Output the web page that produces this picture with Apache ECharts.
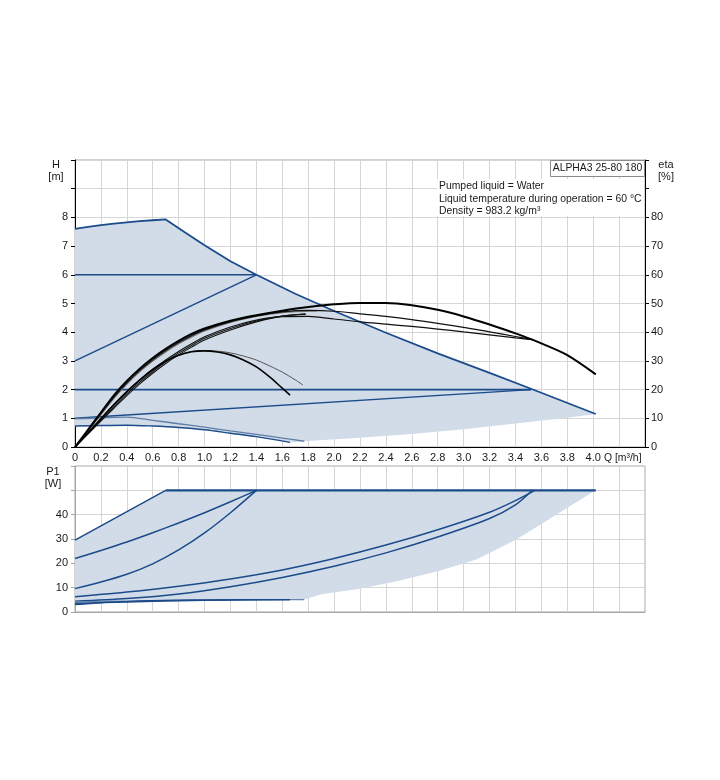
<!DOCTYPE html>
<html><head><meta charset="utf-8">
<script src="https://cdn.jsdelivr.net/npm/echarts@6/dist/echarts.min.js"></script>
<style>html,body{margin:0;padding:0;background:#fff}#c{width:720px;height:780px}</style>
</head><body><div id="c"></div>
<script>
// ---------- DATA (Q in m3/h) ----------
// Head chart, H [m]
const hMaxCurve = [[0,7.6],[0.1,7.67],[0.2,7.73],[0.3,7.78],[0.4,7.83],[0.5,7.87],[0.6,7.9],[0.7,7.93],[0.85,7.47],[1.0,7.03],[1.2,6.47],[1.4,6.0],[1.7,5.34],[2.0,4.74],[2.4,3.98],[2.8,3.26],[3.2,2.58],[3.52,2.03],[4.02,1.15]];
const hShadeLower = [[4.02,1.15],[3.8,1.02],[3.4,0.82],[3.0,0.62],[2.6,0.45],[2.2,0.32],[1.77,0.2]];
const hMinA = [[0,0.98],[0.2,1.02],[0.4,1.04],[0.6,0.93],[0.8,0.81],[1.0,0.69],[1.2,0.56],[1.4,0.44],[1.6,0.31],[1.77,0.2]];
const hMinB = [[0,0.73],[0.2,0.75],[0.4,0.76],[0.6,0.73],[0.8,0.68],[1.0,0.6],[1.2,0.48],[1.4,0.36],[1.66,0.16]];
const hPropHigh = [[0,3],[1.4,6]];
const hPropLow = [[0,1],[3.52,2]];
const hConst6 = [[0,6],[1.4,6]];
const hConst2 = [[0,2],[3.52,2]];
// Efficiency curves, eta [%]
const etaMax = [[0,0],[0.1,6],[0.2,12],[0.3,18],[0.4,23],[0.5,27.3],[0.6,31],[0.7,34.2],[0.8,37],[0.9,39.4],[1.0,41.3],[1.2,44],[1.4,45.9],[1.6,47.5],[1.8,48.8],[2.0,49.7],[2.2,50.2],[2.4,50.2],[2.6,49.4],[2.8,47.8],[3.0,45.5],[3.2,42.7],[3.4,39.6],[3.53,37.4],[3.6,36.1],[3.8,32],[4.02,25.3]];
const etaMid = [[0,0],[0.1,5.8],[0.2,11.6],[0.3,17.4],[0.4,22.4],[0.5,26.7],[0.6,30.4],[0.7,33.6],[0.8,36.4],[0.9,38.8],[1.0,40.8],[1.2,43.7],[1.4,45.7],[1.6,47.1],[1.8,47.6],[2.0,47.3],[2.2,46.4],[2.4,45.5],[2.6,44.4],[2.8,43.1],[3.0,41.7],[3.2,40.1],[3.4,38.5],[3.53,37.4]];
const etaLow = [[0,0],[0.1,4.9],[0.2,9.8],[0.3,14.6],[0.4,19.2],[0.5,23.3],[0.6,27],[0.7,30.3],[0.8,33.3],[0.9,36],[1.0,38.4],[1.2,41.8],[1.4,44.2],[1.6,45.4],[1.8,45.5],[2.0,44.6],[2.2,43.6],[2.4,42.8],[2.6,42],[2.8,41.1],[3.0,40.1],[3.2,39.1],[3.4,38],[3.53,37.4]];
const etaGrayTop = [[0,0],[0.1,5.7],[0.2,11.4],[0.3,17],[0.4,22],[0.5,26.3],[0.6,30],[0.7,33.2],[0.8,36],[0.9,38.4],[1.0,40.5],[1.2,43.5],[1.4,45.6],[1.6,46.9],[1.87,47.5]];
const etaBundleA = [[0,0],[0.1,4.7],[0.2,9.4],[0.3,14],[0.4,18.5],[0.5,22.6],[0.6,26.3],[0.7,29.7],[0.8,32.7],[0.9,35.4],[1.0,37.9],[1.2,41.3],[1.4,43.9],[1.6,45.6],[1.78,46.4]];
const etaBundleB = [[0,0],[0.1,4.5],[0.2,9],[0.3,13.5],[0.4,17.9],[0.5,22],[0.6,25.7],[0.7,29.1],[0.8,32.1],[0.9,34.8],[1.0,37.3],[1.2,40.8],[1.4,43.6],[1.6,45.6],[1.78,46.2]];
const etaPeakThick = [[0,0],[0.1,4.9],[0.2,9.9],[0.3,14.8],[0.4,19.3],[0.5,23.4],[0.6,27],[0.7,29.9],[0.8,32],[0.9,33.2],[1.0,33.5],[1.1,33.1],[1.2,32.1],[1.3,30.3],[1.4,27.9],[1.5,24.5],[1.6,20.5],[1.66,18.1]];
const etaPeakThin = [[0,0],[0.1,4.8],[0.2,9.7],[0.3,14.6],[0.4,19.1],[0.5,23.2],[0.6,26.8],[0.7,29.8],[0.8,32],[0.9,33.3],[1.0,33.6],[1.1,33.4],[1.2,32.8],[1.3,31.7],[1.4,30.3],[1.5,28.3],[1.6,26.1],[1.7,23.4],[1.76,21.6]];
// Power chart, P1 [W]
const pLimitA = [[0,29.5],[0.7,50]];
const pLimitTop = [[0.7,50],[4.02,50]];
const pCurveB = [[0,22],[0.2,25.3],[0.4,28.8],[0.6,32.6],[0.8,36.6],[1.0,40.8],[1.2,45.3],[1.4,50]];
const pCurveC = [[0,9.6],[0.2,12.3],[0.4,15.5],[0.6,19.8],[0.8,25.5],[1.0,32.5],[1.2,40.8],[1.4,50]];
const pCurveD = [[0,6.3],[0.4,8.2],[0.8,10.6],[1.2,13.6],[1.6,17.3],[2.0,22],[2.4,27.5],[2.8,33.8],[3.2,41],[3.4,45.8],[3.55,50]];
const pCurveE = [[0,4.4],[0.4,5.5],[0.8,7.4],[1.2,10.4],[1.6,14.2],[2.0,18.8],[2.4,24.3],[2.8,30.8],[3.2,38.4],[3.4,44],[3.53,50]];
const pLowF1 = [[0,3.0],[0.2,3.8],[0.4,4.3],[0.6,4.7],[0.8,4.9],[1.0,5.0],[1.66,5.1]];
const pLowF2 = [[0,3.5],[0.4,4.1],[0.8,4.6],[1.2,4.9],[1.66,5.1]];
const pLowF3 = [[0,4.1],[0.4,4.5],[0.8,4.8],[1.2,5.0],[1.77,5.1]];
const pShadeLower = [[4.02,50],[3.85,44.5],[3.6,36.2],[3.4,29.6],[3.1,21.6],[2.8,16.7],[2.5,12.8],[2.2,9.6],[1.9,7.3],[1.77,5.1]];
// Texts
const infoLines = ['Pumped liquid = Water','Liquid temperature during operation = 60 °C','Density = 983.2 kg/m³'];
const pumpName = 'ALPHA3 25-80 180';

// ---------- CHART ----------
const FONT = '"Liberation Sans", Arial, sans-serif';
const BLUE = '#1b4b8a', SHADE = '#d1dce8', GRID = '#d6d6d6', FRAME = '#a6a6a6';
const chart = echarts.init(document.getElementById('c'), null, {renderer:'canvas'});

function poly(points, xi, yi) {
  return {type:'custom', xAxisIndex:xi, yAxisIndex:yi, data:[[0,0]], silent:true, z:1, clip:true,
    renderItem:(p, api) => ({type:'polygon', shape:{points:points.map(q => api.coord(q))}, style:{fill:SHADE}})};
}
function line(data, xi, yi, color, width, smooth) {
  return {type:'line', data, xAxisIndex:xi, yAxisIndex:yi, showSymbol:false, symbol:'none', silent:true, z:3,
    smooth: smooth ? 0.3 : false, lineStyle:{color, width}};
}
const rev = a => a.slice().reverse();
const topPoly = hMaxCurve.concat(hShadeLower, rev(hMinB));
const botPoly = pLimitA.concat(pLimitTop.slice(1), pShadeLower, rev(pLowF1));

const xFmt = v => v > 4.05 ? '' : (Math.abs(v) < 1e-9 ? '0' : v.toFixed(1));
const lbl = {fontFamily:FONT, fontSize:11, color:'#1a1a1a'};
const TF = '10.4px ' + FONT;

chart.setOption({
  animation:false,
  backgroundColor:'#fff',
  grid:[
    {left:75, top:160, width:570, height:287, show:true, borderColor:FRAME, borderWidth:1},
    {left:75, top:466, width:570, height:146, show:true, borderColor:FRAME, borderWidth:1}
  ],
  xAxis:[
    {gridIndex:0, type:'value', min:0, max:4.4, interval:0.2,
      axisLine:{show:true, onZero:false, lineStyle:{color:'#000', width:1}}, axisTick:{show:false},
      axisLabel:Object.assign({formatter:xFmt, margin:5, showMinLabel:true, showMaxLabel:true}, lbl),
      splitLine:{show:true, lineStyle:{color:GRID, width:1}}},
    {gridIndex:1, type:'value', min:0, max:4.4, interval:0.2,
      axisLine:{show:true, onZero:false, lineStyle:{color:FRAME}}, axisTick:{show:false}, axisLabel:{show:false},
      splitLine:{show:true, lineStyle:{color:GRID, width:1}}}
  ],
  yAxis:[
    {gridIndex:0, type:'value', min:0, max:10, interval:1, position:'left',
      axisLine:{show:true, onZero:false, lineStyle:{color:'#000'}}, axisTick:{show:true, length:4, lineStyle:{color:'#000'}},
      axisLabel:Object.assign({formatter:v => v <= 8 ? String(v) : '', margin:7}, lbl),
      splitLine:{show:true, lineStyle:{color:GRID, width:1}}},
    {gridIndex:0, type:'value', min:0, max:100, interval:10, position:'right',
      axisLine:{show:true, onZero:false, lineStyle:{color:'#000'}}, axisTick:{show:true, length:4, lineStyle:{color:'#000'}},
      axisLabel:Object.assign({formatter:v => v <= 80 ? String(v) : '', margin:6}, lbl),
      splitLine:{show:false}},
    {gridIndex:1, type:'value', min:0, max:60, interval:10, position:'left',
      axisLine:{show:true, onZero:false, lineStyle:{color:FRAME}}, axisTick:{show:true, length:4, lineStyle:{color:FRAME}},
      axisLabel:Object.assign({formatter:v => v <= 40 ? String(v) : '', margin:7}, lbl),
      splitLine:{show:true, lineStyle:{color:GRID, width:1}}}
  ],
  series:[
    poly(topPoly, 0, 0),
    line(hMaxCurve, 0, 0, BLUE, 1.8, false),
    line(hConst6, 0, 0, BLUE, 1.6, false),
    line(hConst2, 0, 0, BLUE, 1.6, false),
    line(hPropHigh, 0, 0, BLUE, 1.4, false),
    line(hPropLow, 0, 0, BLUE, 1.4, false),
    line(hMinA, 0, 0, '#5f7ea6', 1.3, true),
    line(hMinB, 0, 0, BLUE, 1.4, true),
    line(etaGrayTop, 0, 1, '#777', 1.6, true),
    line(etaBundleA, 0, 1, '#111', 1.1, true),
    line(etaBundleB, 0, 1, '#111', 1.1, true),
    line(etaLow, 0, 1, '#111', 1.2, true),
    line(etaMid, 0, 1, '#111', 1.2, true),
    line(etaPeakThin, 0, 1, '#555', 1.0, true),
    line(etaPeakThick, 0, 1, '#000', 1.6, true),
    line(etaMax, 0, 1, '#000', 2.0, true),
    poly(botPoly, 1, 2),
    line(pLimitA, 1, 2, BLUE, 1.5, false),
    line(pLimitTop, 1, 2, BLUE, 2.2, false),
    line(pCurveB, 1, 2, BLUE, 1.5, true),
    line(pCurveC, 1, 2, BLUE, 1.5, true),
    line(pCurveD, 1, 2, BLUE, 1.5, true),
    line(pCurveE, 1, 2, BLUE, 1.5, true),
    line(pLowF3, 1, 2, '#6a86ab', 1.3, true),
    line(pLowF2, 1, 2, BLUE, 1.3, true),
    line(pLowF1, 1, 2, BLUE, 1.3, true)
  ],
  graphic:[
    {type:'rect', z:50, shape:{x:437, y:179, width:207, height:37}, style:{fill:'#fff'}},
    {type:'rect', z:51, shape:{x:550.5, y:160.5, width:94, height:16}, style:{fill:'#fff', stroke:'#8a8a8a', lineWidth:1}},
    {type:'text', z:52, x:597.5, y:168.5, style:{text:pumpName, font:TF, fill:'#1a1a1a', textAlign:'center', textVerticalAlign:'middle'}},
    {type:'text', z:52, x:439, y:186, style:{text:infoLines[0], font:TF, fill:'#1a1a1a', textAlign:'left', textVerticalAlign:'middle'}},
    {type:'text', z:52, x:439, y:199, style:{text:infoLines[1], font:TF, fill:'#1a1a1a', textAlign:'left', textVerticalAlign:'middle'}},
    {type:'text', z:52, x:439, y:211.5, style:{text:infoLines[2], font:TF, fill:'#1a1a1a', textAlign:'left', textVerticalAlign:'middle'}},
    {type:'text', z:52, x:56, y:165, style:{text:'H', font:'11px '+FONT, fill:'#1a1a1a', textAlign:'center', textVerticalAlign:'middle'}},
    {type:'text', z:52, x:56, y:177, style:{text:'[m]', font:'11px '+FONT, fill:'#1a1a1a', textAlign:'center', textVerticalAlign:'middle'}},
    {type:'text', z:52, x:666, y:165, style:{text:'eta', font:'11px '+FONT, fill:'#1a1a1a', textAlign:'center', textVerticalAlign:'middle'}},
    {type:'text', z:52, x:666, y:177, style:{text:'[%]', font:'11px '+FONT, fill:'#1a1a1a', textAlign:'center', textVerticalAlign:'middle'}},
    {type:'text', z:52, x:53, y:472, style:{text:'P1', font:'11px '+FONT, fill:'#1a1a1a', textAlign:'center', textVerticalAlign:'middle'}},
    {type:'text', z:52, x:53, y:484, style:{text:'[W]', font:'11px '+FONT, fill:'#1a1a1a', textAlign:'center', textVerticalAlign:'middle'}},
    {type:'text', z:52, x:604, y:458, style:{text:'Q [m³/h]', font:TF, fill:'#1a1a1a', textAlign:'left', textVerticalAlign:'middle'}}
  ]
});
</script></body></html>
